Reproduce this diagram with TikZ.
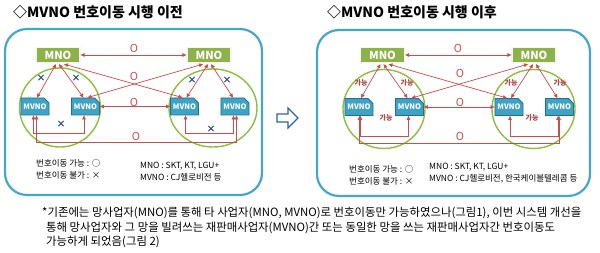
\documentclass[tikz,border=0pt]{standalone}
\usepackage{fontspec}
\setmainfont{Noto Sans CJK KR}
\usetikzlibrary{shapes.misc,arrows.meta,shadows,calc}
\definecolor{panelblue}{HTML}{45A6CC}
\definecolor{mnogreen}{HTML}{8DB24A}
\definecolor{mvnoblue}{HTML}{3FA3C6}
\definecolor{mvnoedge}{HTML}{23708E}
\definecolor{ringgreen}{HTML}{8CBF3F}
\definecolor{linkred}{HTML}{CC4B4B}
\definecolor{xblue}{HTML}{1F3C8C}
\definecolor{arrowblue}{HTML}{2F64A6}
\tikzset{
  panel/.style={draw=panelblue, line width=2.2pt, rounded corners=22pt, fill=white},
  mnobox/.style={fill=mnogreen, draw=white!92!gray, line width=1.3pt, minimum width=44pt, minimum height=15pt, inner sep=0pt, text=white, font=\bfseries\fontsize{11}{11}\selectfont, drop shadow={shadow xshift=0.8pt, shadow yshift=-1pt, opacity=0.35}},
  mvnobox/.style={chamfered rectangle, chamfered rectangle corners=north east, chamfered rectangle xsep=2.5pt, chamfered rectangle ysep=2.5pt, fill=mvnoblue, draw=mvnoedge, line width=0.8pt, minimum width=27pt, minimum height=17pt, inner sep=0pt, text=white, font=\bfseries\fontsize{7.5}{7.5}\selectfont},
  ring/.style={draw=ringgreen, line width=1.4pt},
  link/.style={draw=linkred, line width=0.7pt, {Triangle[length=4pt,width=3.6pt]}-{Triangle[length=4pt,width=3.6pt]}},
  okmark/.style={text=linkred, inner sep=0pt, font=\fontsize{11}{11}\selectfont},
  nomark/.style={text=xblue, inner sep=0pt, font=\bfseries\fontsize{9}{9}\selectfont},
  canmark/.style={text=linkred!85!black, inner sep=0pt, font=\bfseries\fontsize{7}{7}\selectfont},
  legend/.style={font=\fontsize{8.5}{8.5}\selectfont, anchor=west, inner sep=0pt},
  title/.style={font=\bfseries\fontsize{14}{14}\selectfont, anchor=west, inner sep=0pt},
  note/.style={font=\fontsize{11.4}{11.4}\selectfont, anchor=west, inner sep=0pt}
}
\begin{document}
\begin{tikzpicture}[x=1pt,y=-1pt]
\useasboundingbox (0,0) rectangle (600,253);
\fill[white] (0,0) rectangle (600,253);
% titles
\node[title] (tL) at (13,12) {◇MVNO 번호이동 시행 이전};
\node[title] (tR) at (327,12) {◇MVNO 번호이동 시행 이후};
% panels
\draw[panel] (5,29) rectangle (262,195);
\draw[panel] (317,30) rectangle (590,196);
% ===== left panel =====
\draw[ring] (60,107.5) ellipse [x radius=40.5pt, y radius=39.5pt];
\draw[ring] (213,108) ellipse [x radius=44pt, y radius=39pt];
\node[mnobox] (mA) at (58,55) {MNO};
\node[mnobox] (mB) at (209,55) {MNO};
\node[mvnobox] (vA1) at (35,106.5) {MVNO};
\node[mvnobox] (vA2) at (85.5,106.5) {MVNO};
\node[mvnobox] (vB1) at (184.5,106.5) {MVNO};
\node[mvnobox] (vB2) at (235,106.5) {MVNO};
\draw[link] (mA.east) -- (mB.west);
\draw[link] ($(mA.south)+(-2,1)$) -- ($(vA1.north)+(2,0)$);
\draw[link] ($(mA.south)+(1,1)$) -- ($(vA2.north)+(-2,0)$);
\draw[link] ($(mA.south)+(6,1)$) -- ($(vB1.north)+(-2,0)$);
\draw[link] ($(mB.south)+(-6,1)$) -- ($(vA2.north)+(2,0)$);
\draw[link] ($(mB.south)+(-1,1)$) -- ($(vB1.north)+(2,0)$);
\draw[link] ($(mB.south)+(2,1)$) -- ($(vB2.north)+(-2,0)$);
\draw[link] (vA2.east) -- (vB1.west);
\draw[link] ($(vA1.south)+(-1.5,0)$) -- ++(0,18) -| ($(vA2.south)+(-1.5,0)$);
\draw[link] ($(vB1.south)+(1,0)$) -- ++(0,18) -| ($(vB2.south)+(-1.5,0)$);
\draw[link] ($(vA1.south)+(1.5,0)$) -- ++(0,27) -| ($(vB2.south)+(1.5,0)$);
\node[okmark] (oA1) at (134,48) {O};
\node[okmark] (oA2) at (134,76) {O};
\node[okmark] (oA3) at (134,102) {O};
\node[okmark] (oA4) at (136,136) {O};
\node[nomark] (xA1) at (41,78) {×};
\node[nomark] (xA2) at (76,78) {×};
\node[nomark] (xA3) at (61,124) {×};
\node[nomark] (xB1) at (192,80) {×};
\node[nomark] (xB2) at (227,80) {×};
\node[nomark] (xB3) at (211,129) {×};
\node[legend] (lgA1) at (36,163) {번호이동 가능 : ○};
\node[legend] (lgA2) at (36,175) {번호이동 불가 : ×};
\node[legend] (lgA3) at (140,166) {MNO : SKT, KT, LGU+};
\node[legend] (lgA4) at (140,177) {MVNO : CJ헬로비전 등};
% ===== arrow between =====
\draw[draw=arrowblue, line width=1.3pt, fill=white, line join=miter] (277,114) -- (288,114) -- (288,108) -- (298,118) -- (288,128) -- (288,122) -- (277,122) -- cycle;
% ===== right panel =====
\draw[ring] (384,109) ellipse [x radius=41pt, y radius=39.5pt];
\draw[ring] (533.5,109) ellipse [x radius=41.5pt, y radius=39.5pt];
\node[mnobox] (mC) at (382.5,55) {MNO};
\node[mnobox] (mD) at (534,55) {MNO};
\node[mvnobox] (vC1) at (359,107) {MVNO};
\node[mvnobox] (vC2) at (409.5,107) {MVNO};
\node[mvnobox] (vD1) at (509,107) {MVNO};
\node[mvnobox] (vD2) at (559.5,107) {MVNO};
\draw[link] (mC.east) -- (mD.west);
\draw[link] ($(mC.south)+(-2,1)$) -- ($(vC1.north)+(2,0)$);
\draw[link] ($(mC.south)+(1,1)$) -- ($(vC2.north)+(-2,0)$);
\draw[link] ($(mC.south)+(6,1)$) -- ($(vD1.north)+(-2,0)$);
\draw[link] ($(mD.south)+(-6,1)$) -- ($(vC2.north)+(2,0)$);
\draw[link] ($(mD.south)+(-1,1)$) -- ($(vD1.north)+(2,0)$);
\draw[link] ($(mD.south)+(2,1)$) -- ($(vD2.north)+(-2,0)$);
\draw[link] (vC2.east) -- (vD1.west);
\draw[link] ($(vC1.south)+(1.5,0)$) -- ++(0,20) -| ($(vC2.south)+(-1,0)$);
\draw[link] ($(vD1.south)+(1,0)$) -- ++(0,20) -| ($(vD2.south)+(-1.5,0)$);
\draw[link] ($(vC1.south)+(0.5,0)$) -- ++(0,27) -| ($(vD2.south)+(-0.5,0)$);
\node[okmark] (oC1) at (458,48) {O};
\node[okmark] (oC2) at (460,73) {O};
\node[okmark] (oC3) at (460,102) {O};
\node[okmark] (oC4) at (460,136) {O};
\node[canmark] (gC1) at (361,83) {가능};
\node[canmark] (gC2) at (407,83) {가능};
\node[canmark] (gC3) at (386,118) {가능};
\node[canmark] (gD1) at (511,83) {가능};
\node[canmark] (gD2) at (560,83) {가능};
\node[canmark] (gD3) at (532,118) {가능};
\node[legend] (lgC1) at (349,169) {번호이동 가능 : ○};
\node[legend] (lgC2) at (349,181) {번호이동 불가 : ×};
\node[legend] (lgC3) at (429,167) {MNO : SKT, KT, LGU+};
\node[legend] (lgC4) at (429,179) {MVNO : CJ헬로비전, 한국케이블텔레콤 등};
% ===== footnote =====
\node[note] (n1) at (42,213) {*기존에는 망사업자(MNO)를 통해 타 사업자(MNO, MVNO)로 번호이동만 가능하였으나(그림1), 이번 시스템 개선을};
\node[note] (n2) at (46,228) {통해 망사업자와 그 망을 빌려쓰는 재판매사업자(MVNO)간 또는 동일한 망을 쓰는 재판매사업자간 번호이동도};
\node[note] (n3) at (46,242) {가능하게 되었음(그림 2)};
\end{tikzpicture}
\end{document}
